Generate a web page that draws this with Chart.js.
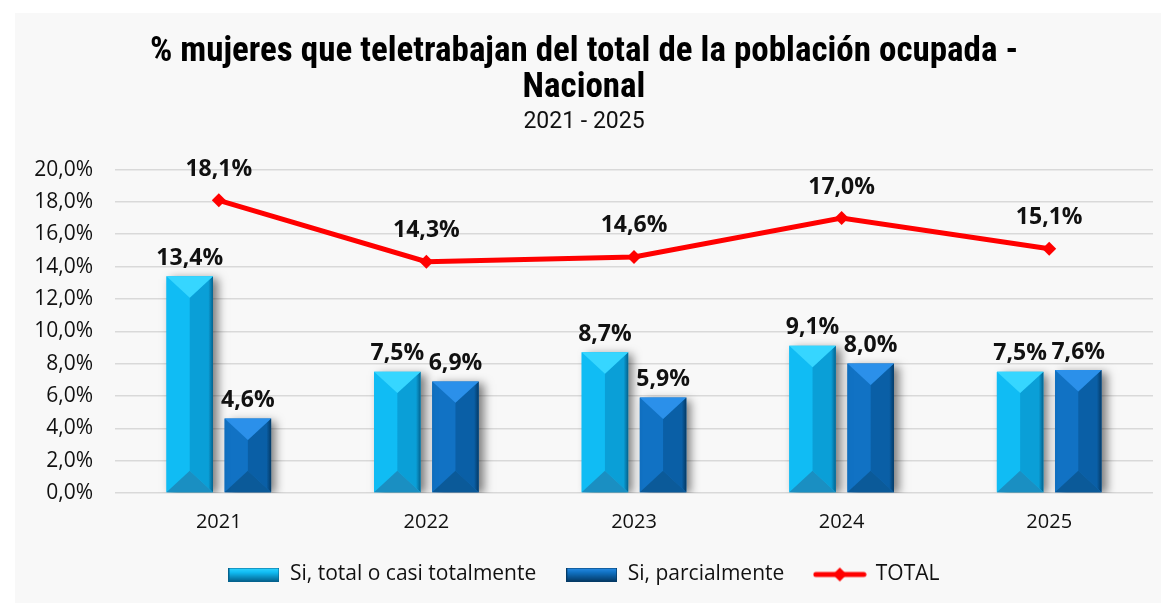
<!DOCTYPE html>
<html>
<head>
<meta charset="utf-8">
<script src="https://cdn.jsdelivr.net/npm/chart.js@4/dist/chart.umd.min.js"></script>
<style>
  html, body { margin: 0; padding: 0; background: #ffffff; }
  #panel {
    position: absolute; left: 15px; top: 13px;
    width: 1146px; height: 590px; background: #f8f8f8;
  }
</style>
</head>
<body>
<div id="panel"><canvas id="chart" width="1146" height="590"></canvas></div>
<script>
// datos 2021 - 2025
const years = ["2021", "2022", "2023", "2024", "2025"];
const totalmente = [13.4, 7.5, 8.7, 9.1, 7.5];
const parcialmente = [4.6, 6.9, 5.9, 8.0, 7.6];
const total = [18.1, 14.3, 14.6, 17.0, 15.1];
const yTicks = [0, 2, 4, 6, 8, 10, 12, 14, 16, 18, 20];

const fmt = v => v.toFixed(1).replace(".", ",") + "%";

// bevel colours for each bar series
const bevel = {
  light: { left: "#10bcf4", right: "#0a9fd7", edge: "#04628e", top: "#36d6ff", bottom: "#1a8fc2" },
  dark:  { left: "#1172c4", right: "#0a5fa6", edge: "#043a66", top: "#2b90ea", bottom: "#0b5a99" }
};

function drawBevel(ctx, L, R, T, B, c) {
  const w = R - L, h = B - T;
  if (h <= 0) return;
  const cx = (L + R) / 2;
  const d = Math.min(w * 0.46, h / 2);
  const poly = (pts, fill) => {
    ctx.beginPath();
    ctx.moveTo(pts[0][0], pts[0][1]);
    for (let i = 1; i < pts.length; i++) ctx.lineTo(pts[i][0], pts[i][1]);
    ctx.closePath();
    ctx.fillStyle = fill;
    ctx.fill();
  };
  poly([[L, T], [cx, T + d], [cx, B - d], [L, B]], c.left);
  const g = ctx.createLinearGradient(cx, 0, R, 0);
  g.addColorStop(0, c.right);
  g.addColorStop(0.8, c.right);
  g.addColorStop(1, c.edge);
  poly([[R, T], [cx, T + d], [cx, B - d], [R, B]], g);
  poly([[L, T], [R, T], [cx, T + d]], c.top);
  poly([[L, B], [R, B], [cx, B - d]], c.bottom);
}

// small canvases used as legend symbols
function barIcon(c) {
  const cv = document.createElement("canvas");
  cv.width = 51; cv.height = 14;
  const x = cv.getContext("2d");
  const g = x.createLinearGradient(0, 0, 0, 14);
  g.addColorStop(0, c.top);
  g.addColorStop(0.35, c.left);
  g.addColorStop(1, c.edge);
  x.fillStyle = g;
  x.fillRect(0, 0, 51, 14);
  x.strokeStyle = c.edge;
  x.lineWidth = 1;
  x.strokeRect(0.5, 0.5, 50, 13);
  return cv;
}
function lineIcon() {
  const cv = document.createElement("canvas");
  cv.width = 54; cv.height = 16;
  const x = cv.getContext("2d");
  x.strokeStyle = "#ff0000"; x.lineWidth = 5; x.lineCap = "round";
  x.beginPath(); x.moveTo(3, 8); x.lineTo(51, 8); x.stroke();
  x.fillStyle = "#ff0000";
  x.beginPath(); x.moveTo(27, 1); x.lineTo(34, 8); x.lineTo(27, 15); x.lineTo(20, 8); x.closePath(); x.fill();
  return cv;
}
const icons = [barIcon(bevel.light), barIcon(bevel.dark), lineIcon()];

const barStyle = { 0: bevel.light, 1: bevel.dark };

const bevelBars = {
  id: "bevelBars",
  beforeDatasetDraw(chart, args) {
    if (!barStyle[args.index]) return;
    const ctx = chart.ctx;
    ctx.save();
    ctx.shadowColor = "rgba(0,0,0,0.5)";
    ctx.shadowBlur = 9;
    ctx.shadowOffsetX = 5;
    ctx.shadowOffsetY = 2;
  },
  afterDatasetDraw(chart, args) {
    const c = barStyle[args.index];
    if (!c) return;
    const ctx = chart.ctx;
    ctx.restore();
    ctx.save();
    args.meta.data.forEach(bar => {
      const p = bar.getProps(["x", "y", "base", "width"], true);
      drawBevel(ctx, p.x - p.width / 2, p.x + p.width / 2, p.y, p.base, c);
    });
    ctx.restore();
  }
};

const valueLabels = {
  id: "valueLabels",
  afterDatasetsDraw(chart) {
    const ctx = chart.ctx;
    ctx.save();
    ctx.font = "bold 23px 'Open Sans', sans-serif";
    ctx.fillStyle = "#111111";
    ctx.textAlign = "center";
    ctx.textBaseline = "middle";
    chart.data.datasets.forEach((ds, i) => {
      const meta = chart.getDatasetMeta(i);
      const off = ds.type === "line" ? 31 : 18;
      meta.data.forEach((el, j) => {
        ctx.fillText(fmt(ds.data[j]), el.x, el.y - off);
      });
    });
    ctx.restore();
  }
};

new Chart(document.getElementById("chart"), {
  data: {
    labels: years,
    datasets: [
      {
        type: "bar",
        label: "Si, total o casi totalmente",
        data: totalmente,
        backgroundColor: bevel.light.left,
        barPercentage: 0.8,
        categoryPercentage: 0.56,
        order: 1
      },
      {
        type: "bar",
        label: "Si, parcialmente",
        data: parcialmente,
        backgroundColor: bevel.dark.left,
        barPercentage: 0.8,
        categoryPercentage: 0.56,
        order: 1
      },
      {
        type: "line",
        label: "TOTAL",
        data: total,
        borderColor: "#ff0000",
        backgroundColor: "#ff0000",
        borderWidth: 5,
        pointStyle: "rectRot",
        pointRadius: 7,
        pointBorderWidth: 0,
        tension: 0,
        order: 0
      }
    ]
  },
  options: {
    responsive: false,
    animation: false,
    layout: { padding: { left: 0, right: 8, top: 0, bottom: 8 } },
    scales: {
      x: {
        grid: { display: false, drawTicks: false },
        border: { display: false },
        afterFit(scale) { scale.height = 41; },
        ticks: { color: "#111111", padding: 17, font: { family: "'Open Sans', sans-serif", size: 20 } }
      },
      y: {
        min: 0,
        max: 20,
        afterBuildTicks(scale) { scale.ticks = yTicks.map(v => ({ value: v })); },
        afterFit(scale) { scale.width = 100; },
        grid: { color: "#d9d9d9", lineWidth: 1.5, drawTicks: false },
        border: { display: false },
        ticks: {
          color: "#111111",
          padding: 22,
          font: { family: "'Open Sans', sans-serif", size: 21 },
          callback: v => fmt(v)
        }
      }
    },
    plugins: {
      tooltip: { enabled: false },
      title: {
        display: true,
        text: ["% mujeres que teletrabajan del total de la población ocupada -", "Nacional"],
        color: "#000000",
        font: { family: "'Liberation Sans Narrow', 'Roboto Condensed', Roboto, sans-serif", size: 35, weight: "bold", lineHeight: 1.03 },
        padding: { top: 21, bottom: 3 }
      },
      subtitle: {
        display: true,
        text: "2021 - 2025",
        color: "#111111",
        font: { family: "'Liberation Sans Narrow', Roboto, sans-serif", size: 23, lineHeight: 1.15 },
        padding: { top: 0, bottom: 34 }
      },
      legend: {
        position: "bottom",
        labels: {
          usePointStyle: true,
          pointStyleWidth: 51,
          boxHeight: 14,
          padding: 30,
          color: "#111111",
          font: { family: "'Open Sans', sans-serif", size: 21 },
          generateLabels(chart) {
            return chart.data.datasets.map((ds, i) => ({
              text: ds.label,
              pointStyle: icons[i],
              fillStyle: "transparent",
              strokeStyle: "transparent",
              lineWidth: 0,
              hidden: false,
              datasetIndex: i,
              fontColor: "#111111"
            }));
          }
        }
      }
    }
  },
  plugins: [bevelBars, valueLabels]
});
</script>
</body>
</html>
